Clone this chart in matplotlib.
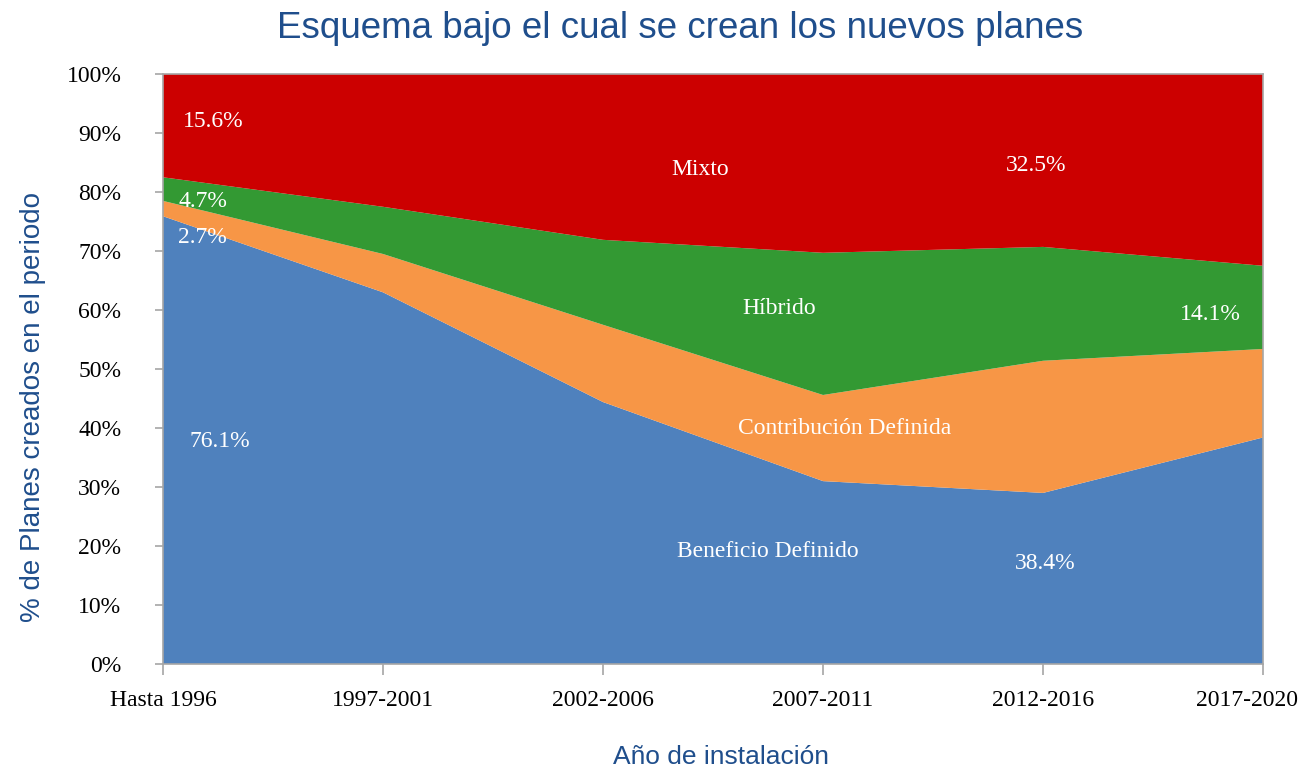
import matplotlib.pyplot as plt
from matplotlib.ticker import FuncFormatter
from matplotlib.transforms import ScaledTranslation

periodos = ["Hasta 1996", "1997-2001", "2002-2006", "2007-2011", "2012-2016", "2017-2020"]
beneficio_definido = [75.9, 63.0, 44.4, 31.0, 29.0, 38.4]
contribucion_definida = [2.6, 6.5, 13.1, 14.6, 22.4, 15.0]
hibrido = [4.0, 8.0, 14.4, 24.1, 19.3, 14.1]
mixto = [17.5, 22.5, 28.1, 30.3, 29.3, 32.5]

colores = ["#4F81BD", "#F79646", "#339933", "#CC0000"]
serif = ["Liberation Serif", "DejaVu Serif"]
sans = ["Liberation Sans", "DejaVu Sans"]
azul = "#1F4E8C"
gris = "#A6A6A6"

fig = plt.figure(figsize=(13.04, 7.68), dpi=100)
ax = fig.add_axes([0.125, 0.1354, 0.8436, 0.7682])

x = range(len(periodos))
ax.stackplot(x, beneficio_definido, contribucion_definida, hibrido, mixto,
             colors=colores, linewidth=0)

ax.set_xlim(0, len(periodos) - 1)
ax.set_ylim(0, 100)
ax.set_xticks(list(x))
ax.set_xticklabels(periodos, fontfamily=serif, fontsize=17)
ax.set_yticks(range(0, 101, 10))
ax.yaxis.set_major_formatter(FuncFormatter(lambda v, p: f"{v:.0f}%"))
for lab in ax.get_yticklabels():
    lab.set_fontfamily(serif)
    lab.set_fontsize(17)
ax.tick_params(axis="x", length=8, width=1.2, color=gris, pad=11)
ax.tick_params(axis="y", length=6, width=1.2, color=gris, pad=24)
for s in ax.spines.values():
    s.set_color(gris)
    s.set_linewidth(1.2)

# la ultima etiqueta se corre un poco a la izquierda para que quepa
ultima = ax.get_xticklabels()[-1]
ultima.set_transform(ultima.get_transform() + ScaledTranslation(-0.165, 0, fig.dpi_scale_trans))

# etiquetas dentro de las areas
etiquetas = [
    (0.23, 92.0, "15.6%"), (0.18, 78.4, "4.7%"), (0.18, 72.3, "2.7%"),
    (0.26, 37.8, "76.1%"), (2.44, 83.8, "Mixto"), (3.97, 84.5, "32.5%"),
    (2.80, 60.3, "Híbrido"), (4.76, 59.3, "14.1%"),
    (3.10, 40.0, "Contribución Definida"), (2.75, 19.1, "Beneficio Definido"),
    (4.01, 17.1, "38.4%"),
]
for ex, ey, t in etiquetas:
    ax.text(ex, ey, t, color="white", fontfamily=serif, fontsize=17,
            ha="center", va="center")

fig.text(680 / 1304, 1 - 29 / 768, "Esquema bajo el cual se crean los nuevos planes",
         ha="center", va="center", fontsize=26.5, color=azul, fontfamily=sans)
fig.text(33 / 1304, 1 - 407 / 768, "% de Planes creados en el periodo", rotation=90,
         ha="center", va="center", fontsize=20, color=azul, fontfamily=sans)
fig.text(721 / 1304, 1 - 757 / 768, "Año de instalación",
         ha="center", va="center", fontsize=19, color=azul, fontfamily=sans)

fig.savefig("out.png", dpi=100)
